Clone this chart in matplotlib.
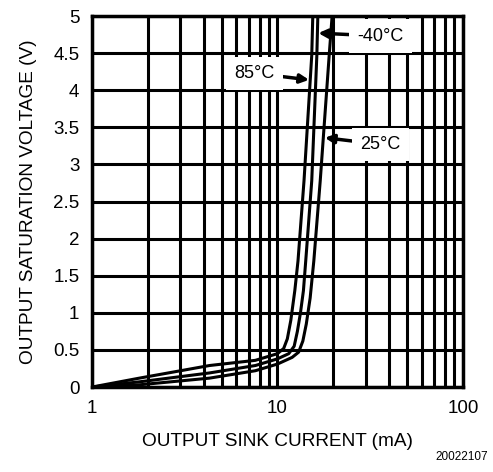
import numpy as np
import matplotlib
matplotlib.use("Agg")
import matplotlib.pyplot as plt

plt.rcParams['font.family'] = ['Liberation Sans', 'DejaVu Sans']

# current in mA, voltage in V
i_85 = [1, 1.8, 4.3, 7.6, 10, 10.8, 11.3, 11.8, 12.4, 12.9, 13.9, 15.3, 15.5]
v_85 = [0, 0.12, 0.29, 0.36, 0.45, 0.52, 0.65, 0.9, 1.3, 1.7, 2.78, 4.47, 5.0]

i_m40 = [1, 1.8, 4.3, 7.6, 10, 11.5, 12.3, 12.8, 13.3, 13.8, 14.2, 15.3, 16.3, 16.5]
v_m40 = [0, 0.07, 0.19, 0.29, 0.38, 0.45, 0.55, 0.75, 1.0, 1.3, 1.7, 2.78, 4.47, 5.0]

i_25 = [1, 1.8, 4.3, 7.6, 10, 12.0, 13.0, 13.7, 14.3, 15.0, 15.7, 17.0, 19.0, 19.7]
v_25 = [0, 0.03, 0.12, 0.22, 0.31, 0.40, 0.47, 0.62, 0.85, 1.2, 1.7, 2.78, 4.47, 5.0]

x_ticks = [1, 10, 100]
x_tick_labels = ["1", "10", "100"]
y_ticks = [0, 0.5, 1, 1.5, 2, 2.5, 3, 3.5, 4, 4.5, 5]
y_tick_labels = ["0", "0.5", "1", "1.5", "2", "2.5", "3", "3.5", "4", "4.5", "5"]

fig = plt.figure(figsize=(4.93, 4.72), dpi=100)
ax = fig.add_axes([0.1866, 0.180, 0.7525, 0.786])

ax.set_xscale("log")
ax.set_xlim(1, 100)
ax.set_ylim(0, 5)

# grid: every decade step and every 0.5 V
minor_x = [m * d for d in (1, 10) for m in range(2, 10)]
for xv in x_ticks + minor_x:
    ax.axvline(xv, color="black", lw=2.2, zorder=1)
for yv in y_ticks:
    ax.axhline(yv, color="black", lw=2.2, zorder=1)

for cur, volt in [(i_85, v_85), (i_m40, v_m40), (i_25, v_25)]:
    ax.plot(cur, volt, color="black", lw=2.2, zorder=3, solid_capstyle="round")

ax.set_xticks(x_ticks)
ax.set_xticklabels(x_tick_labels)
ax.set_xticks([], minor=True)
ax.set_yticks(y_ticks)
ax.set_yticklabels(y_tick_labels)
ax.tick_params(length=0, labelsize=13.5)
ax.tick_params(axis="x", pad=9)
ax.tick_params(axis="y", pad=9)

for s in ax.spines.values():
    s.set_linewidth(2.5)

ax.set_xlabel("OUTPUT SINK CURRENT (mA)", fontsize=13.7, labelpad=12)
ax.set_ylabel("OUTPUT SATURATION VOLTAGE (V)", fontsize=13.7, labelpad=12)

box = dict(boxstyle="square,pad=0.45", fc="white", ec="none")
arrow = dict(arrowstyle="-|>", color="black", lw=2.5, mutation_scale=13,
             shrinkA=0, shrinkB=0)

ax.annotate("85°C", xy=(14.8, 4.14), xytext=(7.5, 4.23), fontsize=13,
            ha="center", va="center", bbox=box, arrowprops=arrow, zorder=5)
ax.annotate("-40°C", xy=(16.6, 4.77), xytext=(36, 4.73), fontsize=13,
            ha="center", va="center", bbox=box, arrowprops=arrow, zorder=5)
ax.annotate("25°C", xy=(18.0, 3.36), xytext=(36, 3.27), fontsize=13,
            ha="center", va="center", bbox=box, arrowprops=arrow, zorder=5)

fig.text(0.99, 0.02, "20022107", fontsize=8.5, ha="right", va="bottom")

fig.savefig("out.png", dpi=100)
